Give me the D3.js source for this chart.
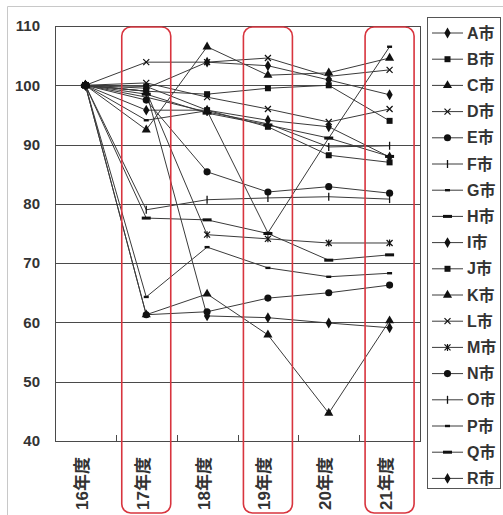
<!DOCTYPE html>
<html>
<head>
<meta charset="utf-8">
<script src="https://cdn.jsdelivr.net/npm/d3@7"></script>
<style>
  html, body { margin: 0; padding: 0; background: #fff; }
  svg { display: block; }
  text { font-family: "Liberation Sans", Arial, "Noto Sans CJK JP", sans-serif; }
</style>
</head>
<body>
<svg id="chart" width="503" height="515"></svg>
<script>
// Fiscal years on the x axis
const years = ["16年度", "17年度", "18年度", "19年度", "20年度", "21年度"];
// Years singled out with a red frame
const highlighted = ["17年度", "19年度", "21年度"];
// Y axis ticks
const yTicks = [40, 50, 60, 70, 80, 90, 100, 110];

// Index values per city (16年度 = 100)
const cityA = [100, 99.5, 103.9, 103.3, 100.9, 98.4];
const cityB = [100, 99.0, 98.5, 99.5, 100.0, 94.0];
const cityC = [100, 92.5, 106.5, 101.7, 102.1, 104.6];
const cityD = [100, 103.9, 103.9, 104.6, 101.5, 102.6];
const cityE = [100, 97.5, 85.4, 82.0, 82.9, 81.8];
const cityF = [100, 98.0, 95.5, 93.5, 89.6, 89.8];
const cityG = [100, 94.1, 95.7, 75.1, 91.1, 106.5];
const cityH = [100, 98.5, 95.3, 93.3, 91.1, 88.0];
const cityI = [100, 95.8, 95.8, 94.1, 93.0, 87.9];
const cityJ = [100, 99.8, 95.8, 93.0, 88.2, 87.0];
const cityK = [100, 61.3, 64.8, 57.9, 44.7, 60.3];
const cityL = [100, 100.4, 98.0, 96.0, 93.8, 96.0];
const cityM = [100, 99.0, 74.8, 74.1, 73.4, 73.4];
const cityN = [100, 61.3, 61.8, 64.1, 65.0, 66.3];
const cityO = [100, 79.0, 80.7, 81.0, 81.2, 80.8];
const cityP = [100, 64.3, 72.7, 69.2, 67.7, 68.3];
const cityQ = [100, 77.6, 77.3, 75.0, 70.5, 71.4];
const cityR = [100, 99.0, 61.1, 60.8, 59.9, 59.1];

const cityNames = ["A市","B市","C市","D市","E市","F市","G市","H市","I市",
                   "J市","K市","L市","M市","N市","O市","P市","Q市","R市"];
const cityValues = [cityA, cityB, cityC, cityD, cityE, cityF, cityG, cityH, cityI,
                    cityJ, cityK, cityL, cityM, cityN, cityO, cityP, cityQ, cityR];
// Marker shape per city, cycling like a spreadsheet default
const markerKinds = ["diamond","square","triangle","cross","circle","plus","dash","bar","diamond",
                     "square","triangle","cross","star","circle","plus","dash","bar","diamond"];

const series = cityNames.map((name, i) => ({ name, values: cityValues[i], marker: markerKinds[i] }));

const svg = d3.select("#chart");
const plot = { left: 55, right: 420, top: 26, bottom: 441 };

const x = d3.scaleBand().domain(years).range([plot.left, plot.right]);
const y = d3.scaleLinear().domain([40, 110]).range([plot.bottom, plot.top]);
const cx = d => x(d) + x.bandwidth() / 2;

// Outer frame (left and top edges)
svg.append("path")
  .attr("d", "M7.5,515 V6.5 H503")
  .attr("fill", "none").attr("stroke", "#c8c8c8").attr("stroke-width", 1);

// Horizontal gridlines
svg.append("g")
  .selectAll("line").data(yTicks).join("line")
  .attr("x1", plot.left).attr("x2", plot.right)
  .attr("y1", d => Math.round(y(d)) + 0.5).attr("y2", d => Math.round(y(d)) + 0.5)
  .attr("stroke", "#4a4a4a").attr("stroke-width", 1);

// Y axis labels via d3.axisLeft, without the domain line
const yAxis = svg.append("g")
  .attr("transform", `translate(${plot.left},0)`)
  .call(d3.axisLeft(y).tickValues(yTicks).tickSize(0).tickPadding(15));
yAxis.select(".domain").remove();
yAxis.selectAll("text")
  .attr("font-size", 15).attr("fill", "#333").attr("font-weight", "bold")
  .style("font-family", "'Liberation Sans', Arial, sans-serif");

// Plot border
svg.append("rect")
  .attr("x", plot.left + 0.5).attr("y", Math.round(y(110)) + 0.5)
  .attr("width", plot.right - plot.left).attr("height", Math.round(y(40)) - Math.round(y(110)))
  .attr("fill", "none").attr("stroke", "#4a4a4a");

// X axis small tick marks between categories (pointing into the plot)
svg.append("g")
  .selectAll("line").data(years.slice(1)).join("line")
  .attr("x1", d => Math.round(x(d)) + 0.5).attr("x2", d => Math.round(x(d)) + 0.5)
  .attr("y1", Math.round(y(40))).attr("y2", Math.round(y(40)) - 6)
  .attr("stroke", "#4a4a4a");

// Rotated category labels
svg.append("g")
  .selectAll("text").data(years).join("text")
  .attr("transform", d => `translate(${cx(d) - 3},457) rotate(-90)`)
  .attr("text-anchor", "end").attr("dominant-baseline", "central")
  .attr("font-size", 17).attr("fill", "#333").attr("font-weight", "bold")
  .text(d => d);

// Marker drawing
function marker(sel, kind) {
  const sym = {
    diamond: d3.symbol(d3.symbolDiamond, 34),
    square: d3.symbol(d3.symbolSquare, 36),
    triangle: d3.symbol(d3.symbolTriangle, 36),
    circle: d3.symbol(d3.symbolCircle, 40)
  };
  if (sym[kind]) {
    sel.append("path").attr("d", sym[kind]()).attr("fill", "#111").attr("stroke", "none");
  } else if (kind === "cross") {
    sel.append("path").attr("d", "M-3,-3L3,3M-3,3L3,-3").attr("stroke", "#111").attr("stroke-width", 1.2).attr("fill", "none");
  } else if (kind === "star") {
    sel.append("path").attr("d", "M-3,-3L3,3M-3,3L3,-3M0,-3.5V3.5").attr("stroke", "#111").attr("stroke-width", 1.2).attr("fill", "none");
  } else if (kind === "plus") {
    sel.append("path").attr("d", "M0,-4V4").attr("stroke", "#111").attr("stroke-width", 1.3).attr("fill", "none");
  } else if (kind === "dash") {
    sel.append("rect").attr("x", -2.5).attr("y", -1.2).attr("width", 5).attr("height", 2.4).attr("fill", "#111");
  } else if (kind === "bar") {
    sel.append("rect").attr("x", -4.5).attr("y", -1.5).attr("width", 9).attr("height", 3).attr("fill", "#111");
  }
}

const line = d3.line().x((d, i) => cx(years[i])).y(d => y(d));

const seriesG = svg.append("g");
series.forEach(s => {
  seriesG.append("path")
    .attr("d", line(s.values))
    .attr("fill", "none").attr("stroke", "#3a3a3a").attr("stroke-width", 1);
});
series.forEach(s => {
  s.values.forEach((v, i) => {
    const g = seriesG.append("g").attr("transform", `translate(${cx(years[i])},${y(v)})`);
    marker(g, s.marker);
  });
});

// Red rounded frames around highlighted years
svg.append("g")
  .selectAll("rect").data(highlighted).join("rect")
  .attr("x", d => cx(d) - 24.5).attr("y", 27)
  .attr("width", 49).attr("height", 486)
  .attr("rx", 9).attr("ry", 9)
  .attr("fill", "none").attr("stroke", "#d8343e").attr("stroke-width", 1.6);

// Legend
const legend = svg.append("g");
legend.append("rect")
  .attr("x", 427.5).attr("y", 17.5).attr("width", 73).attr("height", 471)
  .attr("fill", "#fff").attr("stroke", "#555");
const itemY = i => 33 + i * 26.2;
series.forEach((s, i) => {
  const g = legend.append("g").attr("transform", `translate(0,${itemY(i)})`);
  g.append("line").attr("x1", 432).attr("x2", 463).attr("y1", 0).attr("y2", 0)
    .attr("stroke", "#3a3a3a");
  marker(g.append("g").attr("transform", "translate(447.5,0)"), s.marker);
  g.append("text").attr("x", 467).attr("y", 0)
    .attr("dominant-baseline", "central")
    .attr("font-size", 16).attr("fill", "#333").attr("font-weight", "bold")
    .text(s.name);
});
</script>
</body>
</html>
